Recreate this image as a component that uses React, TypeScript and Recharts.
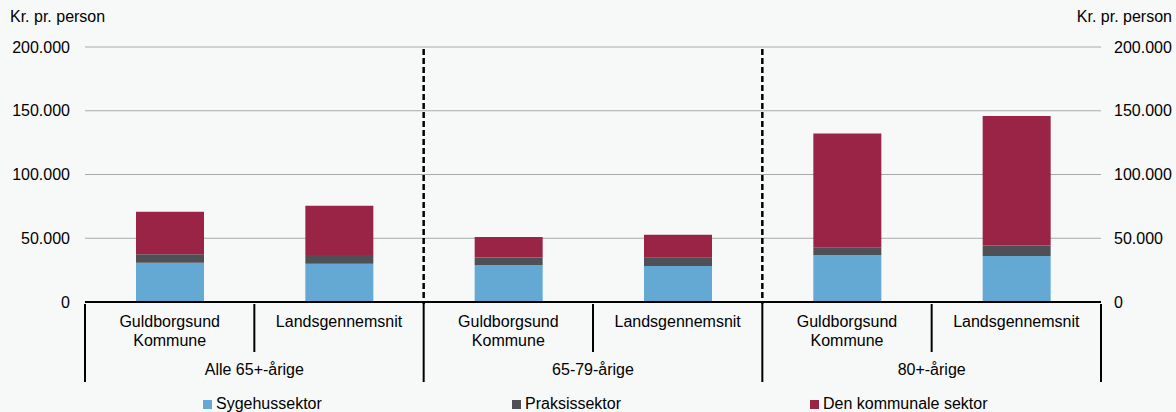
import { Bar, CartesianGrid, ComposedChart, Line, XAxis, YAxis } from "recharts";

const CATEGORIES = [
  "Guldborgsund Kommune",
  "Landsgennemsnit",
  "Guldborgsund Kommune",
  "Landsgennemsnit",
  "Guldborgsund Kommune",
  "Landsgennemsnit",
];
const GROUPS = ["Alle 65+-årige", "65-79-årige", "80+-årige"];

const SYGEHUS = [30800, 30000, 29000, 28200, 36700, 36100];
const PRAKSIS = [6600, 6900, 6000, 6600, 6200, 8200];
const KOMMUNAL = [33400, 38600, 16000, 18000, 89300, 101500];

const Y_TICKS = [0, 50000, 100000, 150000, 200000];

const SERIES = [
  { key: "sygehus", label: "Sygehussektor", color: "#63a9d4" },
  { key: "praksis", label: "Praksissektor", color: "#4f5056" },
  { key: "kommunal", label: "Den kommunale sektor", color: "#9a2446" },
];

const WIDTH = 1176;
const HEIGHT = 412;
const MARGIN = { top: 47, right: 0, bottom: 0, left: 10 };
const AXIS_W = 75;
const X_AXIS_H = 110;
const PLOT_W = WIDTH - MARGIN.left - MARGIN.right - 2 * AXIS_W;
const PLOT_H = HEIGHT - MARGIN.top - MARGIN.bottom - X_AXIS_H;
const SLOT = PLOT_W / CATEGORIES.length;

const FONT = '"Liberation Sans", Arial, sans-serif';

const data = CATEGORIES.map((name, i) => ({
  name,
  group: GROUPS[Math.floor(i / 2)],
  sygehus: SYGEHUS[i],
  praksis: PRAKSIS[i],
  kommunal: KOMMUNAL[i],
}));

function formatThousands(value: number): string {
  return String(value).replace(/\B(?=(\d{3})+(?!\d))/g, ".");
}

function CategoryTick(props: any) {
  const { x, y, payload } = props;
  const index: number = payload.index;
  const half = SLOT / 2;
  const lines = String(payload.value).split(" ");
  const endOfGroup = index % 2 === 1;
  const last = index === CATEGORIES.length - 1;

  return (
    <g>
      {lines.map((line, i) => (
        <text
          key={i}
          x={x}
          y={y + 23 + i * 19}
          textAnchor="middle"
          fontSize={16}
          fontFamily={FONT}
          fill="#000"
        >
          {line}
        </text>
      ))}

      {index === 0 && (
        <line x1={x - half} x2={x - half} y1={y} y2={y + 78} stroke="#000" strokeWidth={2} />
      )}

      <line
        x1={x + half}
        x2={x + half}
        y1={y}
        y2={y + (endOfGroup ? 78 : 48)}
        stroke="#000"
        strokeWidth={2}
      />

      {endOfGroup && !last && (
        <line
          x1={x + half}
          x2={x + half}
          y1={y - PLOT_H}
          y2={y}
          stroke="#000"
          strokeWidth={2.5}
          strokeDasharray="6 3"
        />
      )}

      {!endOfGroup && (
        <text
          x={x + half}
          y={y + 71}
          textAnchor="middle"
          fontSize={16}
          fontFamily={FONT}
          fill="#000"
        >
          {GROUPS[Math.floor(index / 2)]}
        </text>
      )}
    </g>
  );
}

function RightTick(props: any) {
  const { x, y, payload } = props;
  return (
    <text
      x={x}
      y={y}
      dy={5.5}
      textAnchor="start"
      fontSize={16}
      fontFamily={FONT}
      fill="#000"
    >
      {formatThousands(payload.value)}
    </text>
  );
}

export default function App() {
  const tickStyle = { fontSize: 16, fontFamily: FONT, fill: "#000" };

  return (
    <div
      style={{
        position: "absolute",
        left: 0,
        top: 0,
        width: WIDTH,
        height: HEIGHT,
        background: "#f7f9f9",
        fontFamily: FONT,
        fontSize: 16,
        color: "#000",
        overflow: "hidden",
      }}
    >
      <div style={{ position: "absolute", left: 10, top: 8 }}>Kr. pr. person</div>
      <div style={{ position: "absolute", right: 4, top: 8 }}>Kr. pr. person</div>

      <ComposedChart width={WIDTH} height={HEIGHT} data={data} margin={MARGIN} barSize={68}>
        <CartesianGrid yAxisId="left" vertical={false} stroke="#a8a8a8" />
        <XAxis
          dataKey="name"
          height={X_AXIS_H}
          interval={0}
          tickLine={false}
          tickSize={0}
          axisLine={{ stroke: "#000", strokeWidth: 2 }}
          tick={<CategoryTick />}
        />
        <YAxis
          yAxisId="left"
          width={AXIS_W}
          domain={[0, 200000]}
          ticks={Y_TICKS}
          tickFormatter={formatThousands}
          axisLine={false}
          tickLine={false}
          tickSize={0}
          tickMargin={15}
          tick={tickStyle}
        />
        <YAxis
          yAxisId="right"
          orientation="right"
          width={AXIS_W}
          domain={[0, 200000]}
          ticks={Y_TICKS}
          axisLine={false}
          tickLine={false}
          tickSize={0}
          tickMargin={13}
          tick={<RightTick />}
        />
        {SERIES.map((s) => (
          <Bar
            key={s.key}
            yAxisId="left"
            dataKey={s.key}
            name={s.label}
            stackId="total"
            fill={s.color}
            isAnimationActive={false}
          />
        ))}
        {/* invisible series so the right axis gets drawn */}
        <Line
          yAxisId="right"
          dataKey="sygehus"
          stroke="none"
          strokeOpacity={0}
          dot={false}
          activeDot={false}
          legendType="none"
          isAnimationActive={false}
        />
      </ComposedChart>

      <div
        style={{
          position: "absolute",
          left: 203,
          top: 395,
          display: "flex",
          alignItems: "center",
          lineHeight: "18px",
        }}
      >
        {SERIES.map((s, i) => (
          <div
            key={s.key}
            style={{
              display: "flex",
              alignItems: "center",
              width: i === 0 ? 309 : i === 1 ? 298 : "auto",
            }}
          >
            <span
              style={{
                display: "inline-block",
                width: 9,
                height: 9,
                background: s.color,
                marginRight: 4,
              }}
            />
            <span>{s.label}</span>
          </div>
        ))}
      </div>
    </div>
  );
}
